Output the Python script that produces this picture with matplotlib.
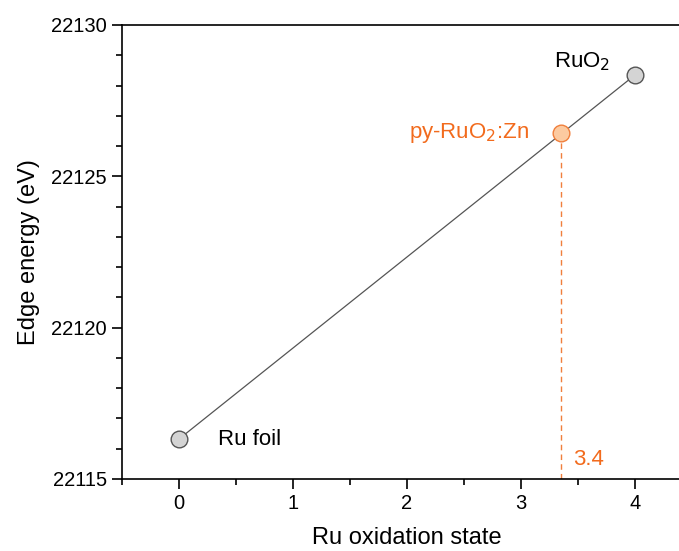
import matplotlib.pyplot as plt
from matplotlib.ticker import MultipleLocator

plt.rcParams['font.family'] = ['Liberation Sans', 'DejaVu Sans']

# reference samples
ref_names = ['Ru foil', 'RuO$_2$']
ref_ox = [0, 4]
ref_edge = [22116.32, 22128.35]

# sample
sample_name = 'py-RuO$_2$:Zn'
sample_ox = 3.35
sample_edge = 22126.43
sample_label = '3.4'

fig = plt.figure(figsize=(6.79, 5.51), dpi=100)
ax = fig.add_axes([122/679, 1 - 479/551, (692 - 122)/679, 454/551])

ax.plot(ref_ox, ref_edge, color='#555555', lw=0.9, zorder=1)
ax.plot(ref_ox, ref_edge, 'o', ms=12, mfc='#d4d4d4', mec='#555555', mew=1.0, zorder=2)
ax.plot([sample_ox], [sample_edge], 'o', ms=12, mfc='#fccaa0', mec='#f07f3c', mew=1.0, zorder=3)
ax.plot([sample_ox, sample_ox], [22115, sample_edge], ls=(0, (4, 3)), color='#f07f3c', lw=1.0, zorder=0)

orange = '#f26b1d'
ax.text(0.34, ref_edge[0], ref_names[0], fontsize=16, va='center', ha='left')
ax.text(3.78, ref_edge[1] + 0.45, ref_names[1], fontsize=16, va='center', ha='right')
ax.text(3.07, sample_edge, sample_name, fontsize=16, va='center', ha='right', color=orange)
ax.text(3.46, 22115.65, sample_label, fontsize=16, va='center', ha='left', color=orange)

ax.set_xlim(-0.5, 4.5)
ax.set_ylim(22115, 22130)
ax.xaxis.set_major_locator(MultipleLocator(1))
ax.xaxis.set_minor_locator(MultipleLocator(0.5))
ax.yaxis.set_major_locator(MultipleLocator(5))
ax.yaxis.set_minor_locator(MultipleLocator(1))
ax.yaxis.set_major_formatter(plt.FuncFormatter(lambda v, p: f'{int(v)}'))
ax.tick_params(which='major', direction='out', length=7, width=1.2, labelsize=14.5, pad=4)
ax.tick_params(which='minor', direction='out', length=4, width=1.2)
for s in ax.spines.values():
    s.set_linewidth(1.2)

ax.set_xlabel('Ru oxidation state', fontsize=17, labelpad=10)
ax.set_ylabel('Edge energy (eV)', fontsize=17, labelpad=8)

fig.savefig('out.png', dpi=100)
